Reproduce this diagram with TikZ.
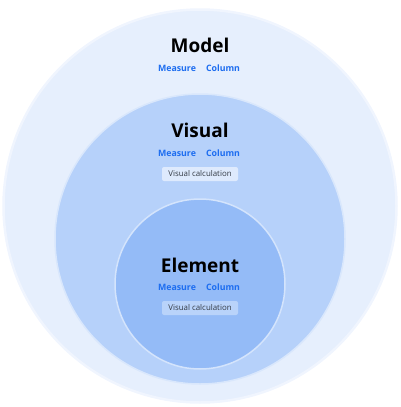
\documentclass[tikz,border=0pt]{standalone}
\usepackage{fontspec}
\setmainfont{Open Sans}
\definecolor{modelfill}{HTML}{E6EFFD}
\definecolor{visualfill}{HTML}{B6D1FA}
\definecolor{elemfill}{HTML}{94BBF7}
\definecolor{ringcol}{HTML}{F0F5FE}
\definecolor{linkblue}{HTML}{1D6DF0}
\definecolor{calctext}{HTML}{333A44}
\tikzset{
  title/.style={font=\bfseries\fontsize{19}{21}\selectfont, text=black, inner sep=0pt},
  item/.style={font=\bfseries\fontsize{8.8}{10}\selectfont, text=linkblue, inner sep=0pt},
  calcbox/.style={font=\fontsize{7.9}{9}\selectfont, text=calctext, rounded corners=2pt,
    minimum width=76pt, minimum height=14pt, inner sep=0pt}
}
\begin{document}
\begin{tikzpicture}[x=1pt,y=-1pt]
\useasboundingbox (0,0) rectangle (400,407);
%%% The three nested circles
\filldraw[fill=modelfill, draw=ringcol, line width=2.5pt] (200, 206) circle (196.5);
\filldraw[fill=visualfill, draw=ringcol!60!visualfill, line width=1.5pt] (200, 239) circle (145);
\filldraw[fill=elemfill, draw=ringcol!70!elemfill, line width=1.5pt] (200, 284) circle (85);
%%% Model
\node[title] (model) at (200, 45) {Model};
\node[item] (mmeasure) at (177, 68) {Measure};
\node[item] (mcolumn) at (223, 68) {Column};
%%% Visual
\node[title] (visual) at (200, 130) {Visual};
\node[item] (vmeasure) at (177, 153) {Measure};
\node[item] (vcolumn) at (223, 153) {Column};
\node[calcbox, fill=white!55!visualfill] (vcalc) at (200, 174) {Visual calculation};
%%% Element
\node[title] (element) at (200, 265) {Element};
\node[item] (emeasure) at (177, 287) {Measure};
\node[item] (ecolumn) at (223, 287) {Column};
\node[calcbox, fill=white!35!elemfill] (ecalc) at (200, 308) {Visual calculation};
% \draw[thick] (200, 206) circle (1pt);
\end{tikzpicture}
\end{document}
